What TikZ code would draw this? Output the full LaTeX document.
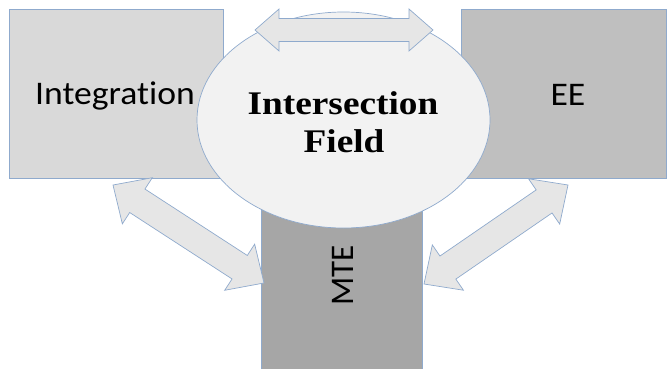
\documentclass[tikz,border=0pt]{standalone}
\usepackage{graphicx}
\usepackage{fontspec}
\setmainfont{Carlito}[Ligatures={NoCommon,NoRequired,NoContextual}]
\newfontfamily\tnrfont{Liberation Serif}
\usetikzlibrary{shapes.geometric,calc}
\definecolor{bordc}{RGB}{143,170,205}
\definecolor{intfill}{RGB}{217,217,217}
\definecolor{eefill}{RGB}{191,191,191}
\definecolor{mtefill}{RGB}{166,166,166}
\definecolor{ellfill}{RGB}{242,242,242}
\definecolor{arrfill}{RGB}{230,230,230}
\newcommand\blockarrow[5]{%
  \draw[barrow] (#1) -- ($(#1)!#5!(#2)!#4!90:(#2)$) -- ($(#1)!#5!(#2)!#3!90:(#2)$)
    -- ($(#2)!#5!(#1)!#3!270:(#1)$) -- ($(#2)!#5!(#1)!#4!270:(#1)$) -- (#2)
    -- ($(#2)!#5!(#1)!#4!90:(#1)$) -- ($(#2)!#5!(#1)!#3!90:(#1)$)
    -- ($(#1)!#5!(#2)!#3!270:(#2)$) -- ($(#1)!#5!(#2)!#4!270:(#2)$) -- cycle;}
\begin{document}
\begin{tikzpicture}[x=1pt,y=-1pt,
  boxst/.style={draw=bordc,line width=0.7pt,inner sep=0pt,rectangle},
  barrow/.style={draw=bordc,fill=arrfill,line width=0.7pt,line join=miter},
  sanst/.style={font=\fontsize{33}{40}\selectfont,text=black,inner sep=0pt},
  serift/.style={font=\tnrfont\bfseries\fontsize{33}{40}\selectfont,text=black,inner sep=0pt}]
\useasboundingbox (0,0) rectangle (667,369);
% boxes
\node[boxst,fill=intfill,minimum width=214pt,minimum height=169pt] (int) at (116,93.5) {};
\node[boxst,fill=eefill,minimum width=205pt,minimum height=169pt] (ee) at (563.5,93.5) {};
\node[boxst,fill=mtefill,minimum width=161pt,minimum height=224pt] (mte) at (341.5,262) {};
% ellipse
\node[ellipse,draw=bordc,line width=0.7pt,fill=ellfill,inner sep=0pt,
      minimum width=293pt,minimum height=216pt] (isf) at (343.5,120) {};
% arrow end points
\coordinate (ta) at (255,30);
\coordinate (tb) at (433,30);
\coordinate (la) at (113,185);
\coordinate (lb) at (264,283);
\coordinate (ra) at (568,185);
\coordinate (rb) at (424,284);
\blockarrow{ta}{tb}{11.5pt}{21pt}{24pt}
\blockarrow{la}{lb}{14pt}{27.5pt}{29pt}
\blockarrow{ra}{rb}{14pt}{27.5pt}{29pt}
% texts
\node[sanst,anchor=base] (tint) at (115,104) {\scalebox{1.08}[1]{Integration}};
\node[sanst,anchor=center] (tee) at (568,94.5) {\scalebox{1.08}[1]{EE}};
\node[sanst,anchor=center,rotate=90] (tmte) at (342.5,275.5) {MTE};
\node[serift,anchor=base] (tis1) at (343,114) {\scalebox{1.13}[1]{Intersection}};
\node[serift,anchor=base] (tis2) at (344,152) {\scalebox{1.13}[1]{Field}};
\end{tikzpicture}
\end{document}
